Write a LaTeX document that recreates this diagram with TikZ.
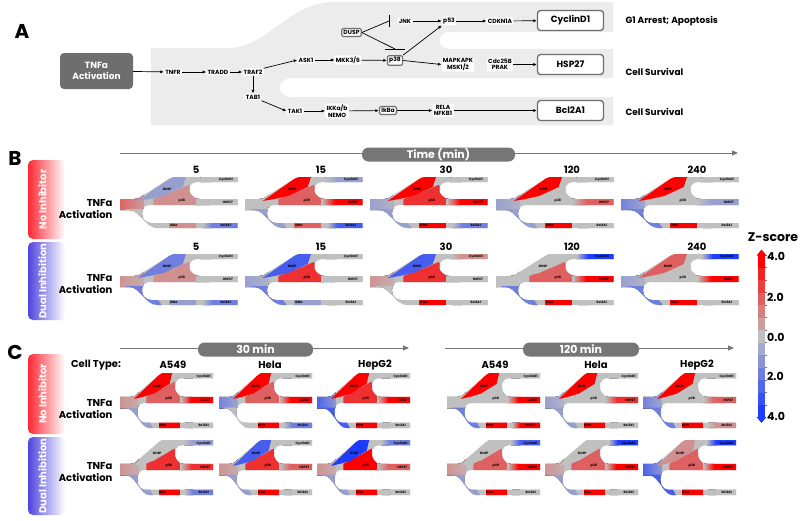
\documentclass[tikz,border=0pt]{standalone}
\usepackage{fontspec}
\setmainfont{Poppins}
\usetikzlibrary{positioning,arrows.meta,shapes}
\definecolor{hr}{RGB}{255,0,0}
\definecolor{hb}{RGB}{30,60,255}
\definecolor{hz}{RGB}{192,192,192}
\definecolor{panelbg}{RGB}{236,236,236}
\definecolor{boxgrey}{RGB}{110,110,110}
\definecolor{pillgrey}{RGB}{118,118,118}
\definecolor{noinh}{RGB}{255,40,50}
\definecolor{dualinh}{RGB}{80,68,222}
\colorlet{r4}{hr}
\colorlet{r3}{hr!75!hz}
\colorlet{r2}{hr!50!hz}
\colorlet{r1}{hr!25!hz}
\colorlet{b4}{hb}
\colorlet{b3}{hb!75!hz}
\colorlet{b2}{hb!50!hz}
\colorlet{b1}{hb!25!hz}
\tikzstyle{prot} = [fill=white, rounded corners=1.5pt, inner sep=1.3pt, align=center, font=\fontsize{6}{6.5}\selectfont\bfseries]
\tikzstyle{kbox} = [draw=boxgrey, line width=1.2pt, fill=white, rounded corners=2pt, inner sep=1.8pt, font=\fontsize{6}{7}\selectfont\bfseries]
\tikzstyle{gene} = [draw=boxgrey, line width=1.3pt, fill=white, rounded corners=3pt, minimum width=66pt, minimum height=20pt, font=\fontsize{9}{10}\selectfont\bfseries]
\tikzstyle{stim} = [fill=boxgrey, rounded corners=4pt, minimum width=73pt, minimum height=36pt, text=white, align=center, font=\fontsize{9}{11}\selectfont\bfseries]
\tikzstyle{connect} = [-{Latex[length=3.5pt,width=3.2pt]}, line width=.7pt]
\tikzstyle{blockline} = [line width=.7pt]
\tikzstyle{outcome} = [anchor=west, font=\fontsize{9}{10}\selectfont\bfseries]
\tikzstyle{panel} = [font=\fontsize{20}{22}\selectfont\bfseries]
\tikzstyle{minilbl} = [inner sep=0pt, font=\fontsize{3.2}{3.5}\selectfont\bfseries]
\tikzstyle{pill} = [fill=pillgrey, rounded corners=6.5pt, minimum height=14pt, inner sep=0pt, text=white, font=\fontsize{11}{12}\selectfont\bfseries]
\tikzstyle{timeline} = [draw=pillgrey, line width=1pt, -{Triangle[length=6pt,width=5pt]}]
\tikzstyle{headlbl} = [font=\fontsize{10}{11}\selectfont\bfseries]
\tikzstyle{stimlbl} = [anchor=east, align=right, font=\fontsize{10}{12}\selectfont\bfseries]
\tikzstyle{sidebox} = [rounded corners=5pt, minimum width=37pt]
\tikzstyle{sidetxt} = [rotate=90, text=white, font=\fontsize{10}{11}\selectfont\bfseries]
\tikzstyle{bscale} = [xscale=.98, yscale=1]
\tikzstyle{cscale} = [xscale=.775, yscale=1.08]
\tikzstyle{tick} = [font=\fontsize{11}{12}\selectfont\bfseries, anchor=west, inner sep=0pt]

% outline of one small pathway map (120 x 51)
\newcommand{\minipath}{(0,22) -- (14,22) .. controls (18,22) and (20,21) .. (24,18) -- (50,2) .. controls (53,0) and (55,0) .. (58,0) -- (120,0) -- (120,5) -- (80,5) .. controls (70,5) and (68,14) .. (74,19) .. controls (76,21) and (78,22) .. (82,22) -- (120,22) -- (120,28) -- (30,28) .. controls (20,28) and (19,45) .. (32,46) -- (120,46) -- (120,51) -- (38,51) .. controls (26,51) and (20,33) .. (10,33) -- (0,33) -- cycle}

% #1 placement, then colours: stem, DUSP, p38, CyclinD1, HSP27, lower branch, IkBa, Bcl2A1
\newcommand{\heatmini}[9]{%
  \begin{scope}[#1]
    \begin{scope}
      \clip \minipath;
      \fill[hz] (-2,-2) rectangle (122,53);
      \fill[left color=#2, right color=#2!40!hz] (-2,14) rectangle (24,40);
      \fill[#4] (34,29) -- (34,22) -- (56,14) -- (70,8) -- (80,22) -- (80,29) -- cycle;
      \fill[#3] (18,24) -- (56,-2) -- (68,-2) -- (64,10) -- (44,19) -- (30,22) -- cycle;
      \fill[left color=hz, right color=#5] (82,-2) rectangle (94,8);
      \fill[#5] (94,-2) rectangle (122,8);
      \fill[left color=hz, right color=#6] (78,20) rectangle (92,30);
      \fill[#6] (92,20) rectangle (122,30);
      \fill[#7] (6,32) -- (28,32) -- (44,53) -- (6,53) -- cycle;
      \fill[#8] (50,44) rectangle (78,53);
      \fill[left color=hz, right color=#9] (84,44) rectangle (94,53);
      \fill[#9] (94,44) rectangle (122,53);
    \end{scope}
    \node[minilbl] at (48,12) {DUSP};
    \node[minilbl] at (63,23.5) {p38};
    \node[minilbl] at (108,3) {CyclinD1};
    \node[minilbl] at (110,25) {HSP27};
    \node[minilbl] at (55,48.5) {IkBa};
    \node[minilbl] at (108,48.5) {Bcl2A1};
  \end{scope}}

\begin{document}
\begin{tikzpicture}[x=1pt, y=-1pt]
  \useasboundingbox (0,0) rectangle (800,520);
  \fill[white] (0,0) rectangle (800,520);
  %-----------------------------------------------
  % A: pathway
  \node[panel] (pa) at (22,31) {A};
  \fill[panelbg] (151,48) -- (228,48) .. controls (268,48) and (288,2) .. (335,2) -- (613,2) -- (613,32) -- (450,32) .. controls (436,32) and (436,49) .. (450,49) -- (613,49) -- (613,78) -- (292,78) .. controls (276,78) and (276,97) .. (292,97) -- (613,97) -- (613,125) -- (151,125) -- cycle;
  \node (act) [stim] at (96.5,71) {TNFa\\Activation};
  \node (tnfr) [prot] at (173,72) {TNFR};
  \node (tradd) [prot] at (218,72) {TRADD};
  \node (traf2) [prot] at (253,72) {TRAF2};
  \node (tab1) [prot] at (253,97) {TAB1};
  \node (ask1) [prot] at (306,60) {ASK1};
  \node (tak1) [prot] at (295,111) {TAK1};
  \node (ikk) [prot] at (337,111) {IKKa/b\\NEMO};
  \node (ikba) [kbox] at (388,110.5) {IkBa};
  \node (rela) [prot] at (443,110.5) {RELA\\NFKB1};
  \node (bcl) [gene] at (570.5,110.5) {Bcl2A1};
  \node (mkk) [prot] at (348,60) {MKK3/6};
  \node (p38) [kbox] at (395,60.5) {p38};
  \node (dusp) [kbox] at (351.5,32.5) {DUSP};
  \node (jnk) [prot] at (405,21) {JNK};
  \node (p53) [prot] at (449,21) {p53};
  \node (cdkn) [prot] at (500,21) {CDKN1A};
  \node (cyc) [gene] at (570.5,20.5) {CyclinD1};
  \node (mapk) [prot] at (458,64.5) {MAPKAPK\\MSK1/2};
  \node (cdc) [prot] at (500,64.5) {Cdc25B\\PRAK};
  \node (hsp) [gene] at (570.5,64.5) {HSP27};
  \node (g1) [outcome] at (622,21) {G1 Arrest; Apoptosis};
  \node (surv1) [outcome] at (622,72) {Cell Survival};
  \node (surv2) [outcome] at (622,112) {Cell Survival};
  \coordinate (jnkbar) at (389,21);
  \coordinate (p38bar) at (395,49);
  %-----------------------------------------------
  \draw [connect] (act) -- (tnfr);
  \draw [connect] (tnfr) -- (tradd);
  \draw [connect] (tradd) -- (traf2);
  \draw [connect] (traf2) -- (tab1);
  \draw [connect] (traf2.north east) -- (ask1.west);
  \draw [connect] (tab1.south east) -- (tak1.west);
  \draw [connect] (tak1) -- (ikk);
  \draw [connect] (ikk) -- (ikba);
  \draw [connect] (ikba) -- (rela);
  \draw [connect] (rela) -- (bcl);
  \draw [connect] (ask1) -- (mkk);
  \draw [connect] (mkk) -- (p38);
  \draw [connect] (p38.north east) -- (p53.south west);
  \draw [connect] (p38.east) -- (mapk.west);
  \draw [connect] (cdc) -- (hsp);
  \draw [connect] (jnk) -- (p53);
  \draw [connect] (p53) -- (cdkn);
  \draw [connect] (cdkn) -- (cyc);
  \draw [blockline] (dusp.east) -- (jnkbar);
  \draw [blockline] ([yshift=-6pt]jnkbar) -- ([yshift=6pt]jnkbar);
  \draw [blockline] (dusp.east) -- (p38bar);
  \draw [blockline] ([xshift=-10pt]p38bar) -- ([xshift=10pt]p38bar);
  %-----------------------------------------------
  % B: time course
  \node[panel] (pb) at (15,158) {B};
  \coordinate (tb0) at (120,153);
  \coordinate (tb1) at (738,153);
  \draw [timeline] (tb0) -- (tb1);
  \node (time) [pill, minimum width=153pt] at (438.5,154.5) {Time (min)};
  \node (bno) [sidebox, minimum height=79pt, left color=noinh, right color=white] at (46.5,199.5) {};
  \node (bdual) [sidebox, minimum height=78pt, left color=dualinh, right color=white] at (46.5,281) {};
  \node[sidetxt] at ([xshift=-4pt]bno.center) {No Inhibitor};
  \node[sidetxt] at ([xshift=-4pt]bdual.center) {Dual Inhibition};
  \node (bstim1) [stimlbl] at (116,209) {TNFa\\Activation};
  \node (bstim2) [stimlbl] at (116,284) {TNFa\\Activation};
  \foreach \t/\x in {5/120, 15/245, 30/370, 120/496, 240/621} {
    \node[headlbl] at (\x+76,170) {\t};
    \node[headlbl] at (\x+76,247) {\t};
  }
  \heatmini{shift={(120,177)},bscale}{r2}{b1}{r1}{hz}{hz}{hz}{r1}{b2}
  \heatmini{shift={(245,177)},bscale}{hz}{r4}{r2}{b1}{r4}{b1}{r2}{b3}
  \heatmini{shift={(370,177)},bscale}{b1}{r4}{r3}{hz}{r4}{b1}{r4}{b2}
  \heatmini{shift={(496,177)},bscale}{b1}{r4}{hz}{hz}{r2}{b1}{r4}{hz}
  \heatmini{shift={(621,177)},bscale}{b2}{r4}{hz}{hz}{b1}{b2}{r4}{hz}
  \heatmini{shift={(120,254)},bscale}{r1}{b2}{r1}{hz}{hz}{b2}{b1}{b2}
  \heatmini{shift={(245,254)},bscale}{b1}{b3}{r3}{hz}{hz}{b2}{b1}{hz}
  \heatmini{shift={(370,254)},bscale}{r1}{b3}{r3}{r1}{hz}{hz}{r4}{hz}
  \heatmini{shift={(496,254)},bscale}{hz}{hz}{r2}{b4}{r4}{b2}{r4}{hz}
  \heatmini{shift={(621,254)},bscale}{b1}{r2}{hz}{b4}{r4}{b2}{r4}{hz}
  %-----------------------------------------------
  % C: cell types
  \node[panel] (pc) at (15,352) {C};
  \coordinate (tc0) at (120,348);
  \coordinate (tc1) at (409,348);
  \coordinate (tc2) at (445,348);
  \coordinate (tc3) at (734,348);
  \draw [timeline] (tc0) -- (tc1);
  \draw [timeline] (tc2) -- (tc3);
  \node (t30) [pill, minimum width=115pt] at (255.5,349.5) {30 min};
  \node (t120) [pill, minimum width=116pt] at (581,349.5) {120 min};
  \node (ctype) [headlbl] at (96,365) {Cell Type:};
  \foreach \c/\x in {A549/173, Hela/270, HepG2/375, A549/495, Hela/596, HepG2/697} {
    \node[headlbl] at (\x,365) {\c};
  }
  \node (cno) [sidebox, minimum height=80pt, left color=noinh, right color=white] at (46.5,394) {};
  \node (cdual) [sidebox, minimum height=78pt, left color=dualinh, right color=white] at (46.5,476) {};
  \node[sidetxt] at ([xshift=-4pt]cno.center) {No Inhibitor};
  \node[sidetxt] at ([xshift=-4pt]cdual.center) {Dual Inhibition};
  \node (cstim1) [stimlbl] at (116,409) {TNFa\\Activation};
  \node (cstim2) [stimlbl] at (116,472) {TNFa\\Activation};
  \heatmini{shift={(120,373)},cscale}{r1}{r4}{r2}{hz}{r4}{b1}{r4}{hz}
  \heatmini{shift={(219,373)},cscale}{b2}{r4}{r2}{hz}{r4}{hz}{r4}{b2}
  \heatmini{shift={(317,373)},cscale}{b3}{r4}{r3}{hz}{r4}{b3}{r4}{hz}
  \heatmini{shift={(447,373)},cscale}{hz}{r4}{hz}{hz}{r4}{b2}{r4}{r4}
  \heatmini{shift={(545,373)},cscale}{b1}{r4}{hz}{hz}{r3}{b1}{r4}{hz}
  \heatmini{shift={(643,373)},cscale}{b2}{r4}{hz}{hz}{r2}{b2}{r4}{r1}
  \heatmini{shift={(120,440)},cscale}{r1}{hz}{r3}{b1}{r3}{b1}{r4}{b2}
  \heatmini{shift={(219,440)},cscale}{r1}{b3}{r3}{hz}{r2}{b1}{r4}{hz}
  \heatmini{shift={(317,440)},cscale}{r1}{b4}{r4}{b2}{r2}{b1}{r4}{hz}
  \heatmini{shift={(447,440)},cscale}{r1}{hz}{r2}{b3}{r4}{b1}{r4}{hz}
  \heatmini{shift={(545,440)},cscale}{r1}{hz}{r2}{b4}{r4}{b1}{r4}{hz}
  \heatmini{shift={(643,440)},cscale}{b3}{r1}{r2}{b4}{r4}{b3}{r4}{hz}
  %-----------------------------------------------
  % colour scale
  \node (zs) [font=\fontsize{12.5}{13}\selectfont\bfseries] at (773,237) {Z-score};
  \foreach \c [count=\i from 0] in {hr, hr!83!hz, hr!67!hz, hr!50!hz, hr!33!hz, hr!17!hz, hz, hb!17!hz, hb!33!hz, hb!50!hz, hb!67!hz, hb!83!hz, hb} {
    \fill[\c] (758,{255+\i*12.5}) rectangle (765,{267.6+\i*12.5});
    \draw[boxgrey, line width=.3pt] (765,{255+\i*12.5}) -- (767,{255+\i*12.5});
  }
  \fill[hr] (756.5,255.5) -- (766.5,255.5) -- (761.5,249.5) -- cycle;
  \fill[hb] (756.5,417) -- (766.5,417) -- (761.5,423) -- cycle;
  \node[tick] at (767,256) {4.0};
  \node[tick] at (767,297) {2.0};
  \node[tick] at (767,337) {0.0};
  \node[tick] at (767,376) {2.0};
  \node[tick] at (767,416) {4.0};
\end{tikzpicture}
\end{document}
